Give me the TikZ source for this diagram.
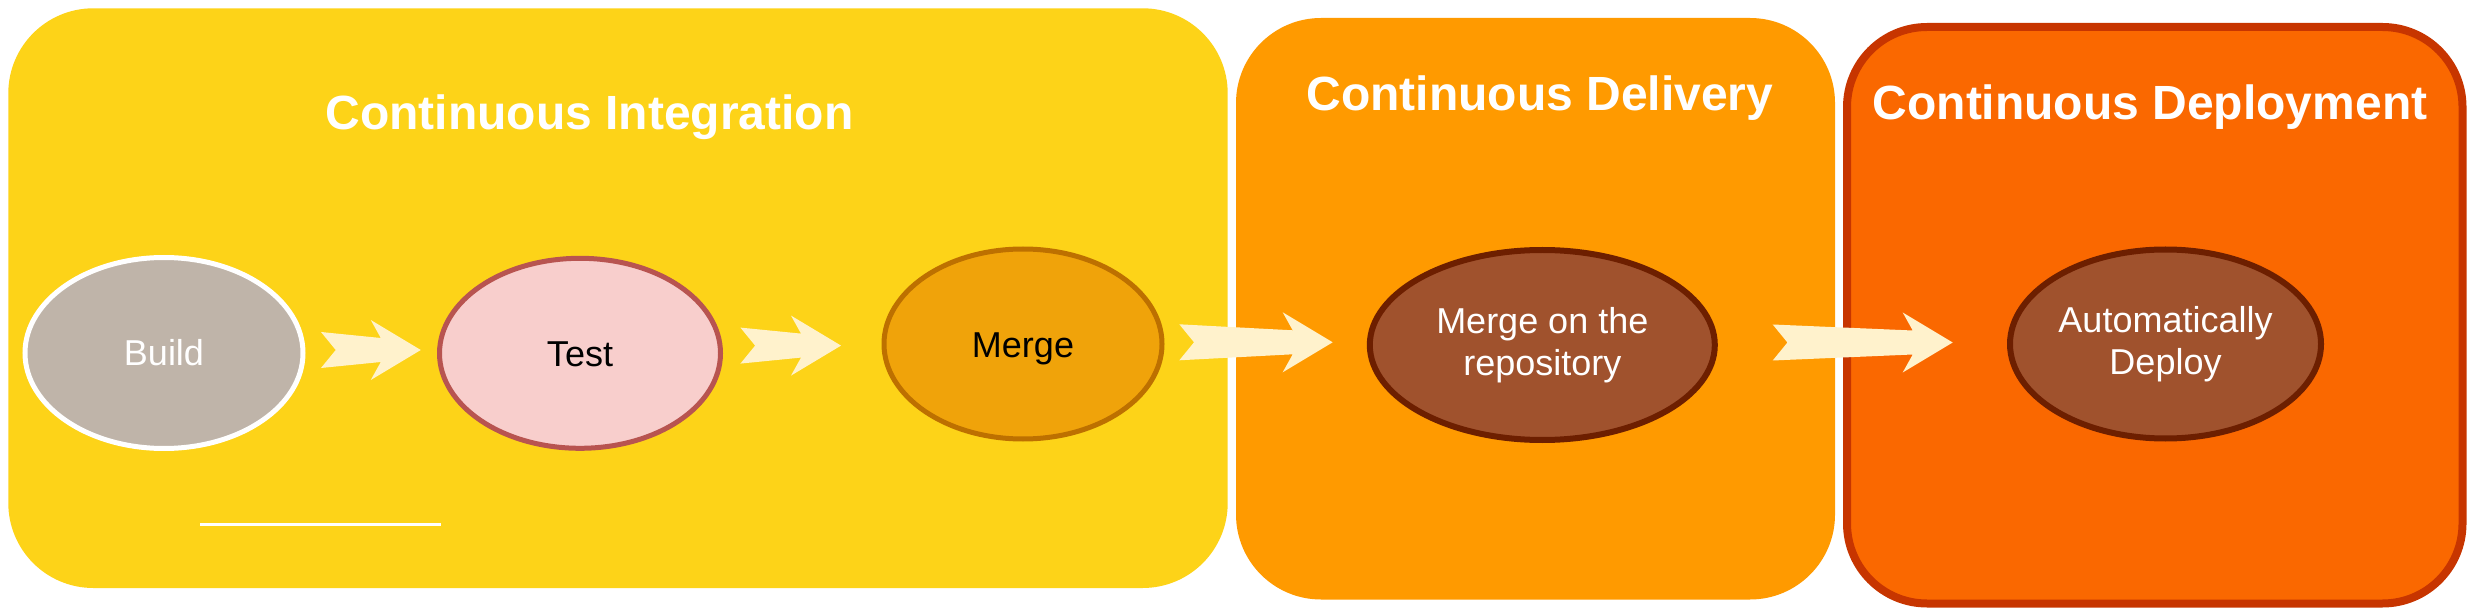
\documentclass[tikz,border=0pt]{standalone}
\usepackage{fontspec}
\setmainfont{Liberation Sans}
\usetikzlibrary{shapes.geometric,calc}
\definecolor{ciyellow}{RGB}{253,211,24}
\definecolor{cdorange}{RGB}{255,154,0}
\definecolor{depfill}{HTML}{FA6800}
\definecolor{depline}{HTML}{C73500}
\definecolor{buildfill}{RGB}{191,180,169}
\definecolor{testfill}{HTML}{F8CECC}
\definecolor{testline}{HTML}{B85450}
\definecolor{mergefill}{HTML}{F0A30A}
\definecolor{mergeline}{HTML}{BD7000}
\definecolor{brownfill}{HTML}{A0522D}
\definecolor{brownline}{HTML}{6D1F00}
\definecolor{arrowcol}{HTML}{FFF2CC}
\newcommand\fatarrow[2]{%
  \fill[arrowfill] let \p1=(#1), \p2=(#2) in
  (\x1,{\y1+18pt}) -- ({\x2-40pt},{\y1+12pt}) -- ({\x2-50pt},{\y1+30pt}) -- (\x2,\y1)
  -- ({\x2-50pt},{\y1-30pt}) -- ({\x2-40pt},{\y1-12pt}) -- (\x1,{\y1-18pt})
  -- ({\x1+14.7pt},\y1) -- cycle;}
\begin{document}
\begin{tikzpicture}[x=1pt,y=-1pt,
  stagebox/.style={rectangle, inner sep=0pt, outer sep=0pt},
  stagetitle/.style={anchor=base, inner sep=0pt, text=white,
    font=\fontsize{48}{57.6}\selectfont\bfseries},
  ell/.style={ellipse, inner sep=0pt, outer sep=0pt, line width=5pt,
    font=\fontsize{36}{42}\selectfont},
  oneline/.style={text height=26pt, text depth=0pt},
  arrowfill/.style={fill=arrowcol, draw=none}]
\useasboundingbox (0,0) rectangle (2486,609);
% stage boxes
\node[stagebox, fill=ciyellow, rounded corners=85pt,
      minimum width=1219.4pt, minimum height=579.7pt] (ci) at (618,298.15) {};
\node[stagebox, fill=cdorange, rounded corners=85pt,
      minimum width=599pt, minimum height=581.5pt] (cd) at (1535.5,308.75) {};
\node[stagebox, fill=depfill, draw=depline, line width=8pt, rounded corners=80pt,
      minimum width=615.5pt, minimum height=576.5pt] (cdep) at (2154.75,315.25) {};
% titles
\node[stagetitle] (citit) at (589.5,130) {Continuous Integration};
\node[stagetitle] (cdtit) at (1540,111) {Continuous Delivery};
\node[stagetitle] (deptit) at (2150,120) {Continuous Deployment};
% steps
\node[ell, oneline, fill=buildfill, draw=white, text=white,
      minimum width=278pt, minimum height=191pt] (build) at (164,353) {Build};
\node[ell, oneline, fill=testfill, draw=testline, text=black,
      minimum width=281pt, minimum height=190pt] (test) at (580,353.3) {Test};
\node[ell, oneline, fill=mergefill, draw=mergeline, text=black,
      minimum width=278pt, minimum height=190pt] (merge) at (1023,344) {Merge};
\node[ell, fill=brownfill, draw=brownline, text=white, align=center, line width=6pt,
      minimum width=345pt, minimum height=190pt] (repo) at (1542.3,345) {Merge on the\\repository};
\node[ell, fill=brownfill, draw=brownline, text=white, align=center, line width=6pt,
      minimum width=311pt, minimum height=189pt] (deploy) at (2165.5,344) {Automatically\\Deploy};
% white rule
\coordinate (ruleA) at (200,524.3);
\coordinate (ruleB) at (440.7,524.3);
\draw[white, line width=2.8pt] (ruleA) -- (ruleB);
% arrows
\coordinate (a1s) at (321,350);      \coordinate (a1e) at (420.8,350);
\coordinate (a2s) at (740.4,345.6);  \coordinate (a2e) at (841,345.6);
\coordinate (a3s) at (1179.3,342.3); \coordinate (a3e) at (1332.7,342.3);
\coordinate (a4s) at (1772.7,342.5); \coordinate (a4e) at (1952.7,342.5);
\fatarrow{a1s}{a1e}
\fatarrow{a2s}{a2e}
\fatarrow{a3s}{a3e}
\fatarrow{a4s}{a4e}
\end{tikzpicture}
\end{document}
